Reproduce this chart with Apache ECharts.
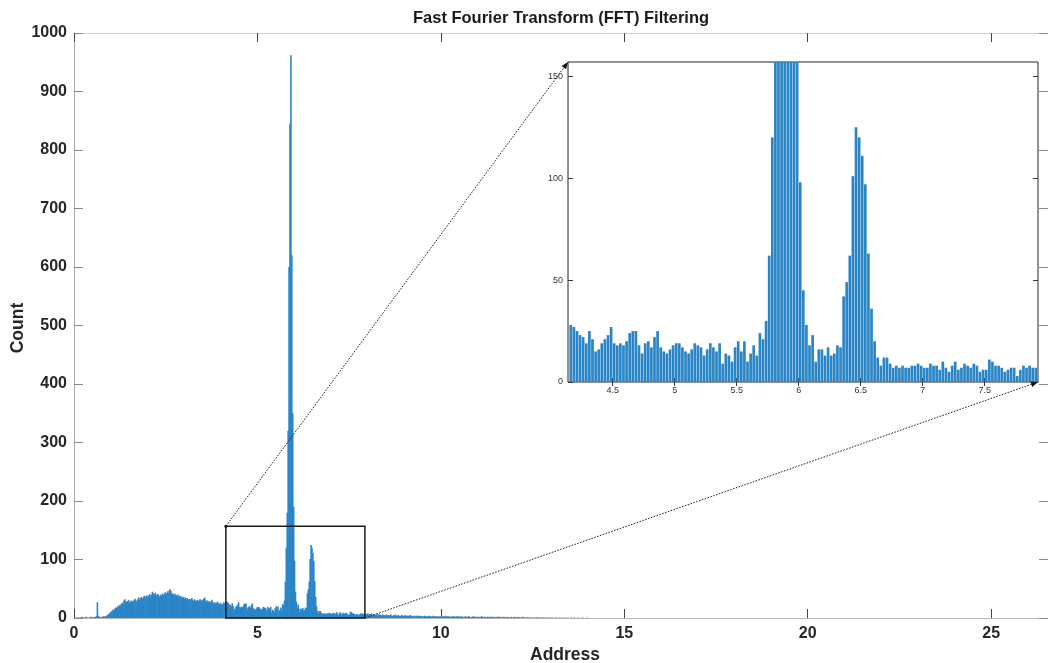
<!DOCTYPE html>
<html><head><meta charset="utf-8">
<script src="https://cdn.jsdelivr.net/npm/echarts@6/dist/echarts.min.js"></script>
<style>html,body{margin:0;padding:0;background:#fff}#c{width:1048px;height:663px}</style>
</head><body><div id="c"></div>
<script>
// ---------------- data ----------------
const binWidth = 0.025;           // histogram bin width (Address units)
// bins from Address 0 to 4.15
const countsLow = [
  0,0,1,0,1,1,0,1,2,1,0,1,1,2,1,0,1,1,2,1,1,2,1,2,3,
  27,4,1,2,1,2,2,3,2,3,
  4,5,6,8,9,11,
  12,14,13,16,18,17,20,19,
  22,21,24,26,25,30,32,28,
  27,29,31,26,28,30,27,29,
  31,33,30,28,32,35,31,34,
  36,33,35,38,34,37,39,35,
  38,41,37,40,45,42,39,43,
  40,38,41,39,36,40,38,42,
  39,41,44,40,43,46,42,49,
  47,43,40,42,38,41,39,37,
  40,36,38,35,37,34,36,33,
  35,32,34,31,33,30,32,34,
  31,29,32,30,28,31,29,30,
  32,29,31,28,33,35,30,28,
  30,27,29,26,28,31,27,25,
  27,24,26,28,25,23,26,24,
  22,25,27,24,26
];
// bins from Address 4.15 to 7.95 (zoomed region)
const countsZoom = [
  28,27,25,23,22,19,25,21,15,16,
  19,21,23,27,19,18,19,18,20,24,
  25,25,18,14,19,20,17,22,25,17,
  15,14,16,18,19,19,17,15,14,16,
  19,18,17,13,16,19,17,15,19,9,
  14,13,10,17,20,15,20,10,14,18,
  13,24,21,30,62,120,180,320,600,845,
  962,620,350,190,98,45,28,18,23,10,
  16,16,13,17,13,14,18,17,42,49,
  62,101,125,120,111,97,63,36,20,12,
  8,12,12,9,7,8,7,8,7,7,
  8,8,9,8,7,7,9,8,8,6,
  10,7,5,8,10,6,7,9,8,7,
  9,8,5,6,6,11,10,8,8,7,
  5,6,7,7,3,6,8,7,8,7,7,6
];
// bins from Address 7.95 to 14
const countsHigh = [
  7,6,8,5,7,6,8,5,6,7,5,6,4,7,5,6,5,4,6,5,
  5,4,6,3,5,4,5,6,4,3,5,4,6,4,3,5,4,4,3,5,
  4,3,4,5,3,4,3,4,5,3,4,3,3,4,2,4,3,4,3,3,
  4,3,2,3,4,3,3,2,4,3,3,2,3,4,2,3,3,2,3,2,
  3,2,3,2,3,3,2,4,2,3,2,3,2,2,3,2,3,2,2,3,
  2,3,2,2,3,2,2,1,3,2,2,2,3,2,1,2,2,3,2,2,
  2,1,2,2,1,2,3,2,1,2,2,1,2,2,1,2,1,2,2,1,
  2,1,1,2,2,1,2,1,1,2,1,2,1,1,2,1,1,1,2,1,
  1,1,2,1,1,1,2,1,1,1,1,2,1,1,0,1,1,1,1,0,
  1,1,0,1,1,0,1,1,1,0,1,0,1,1,0,1,0,1,0,1,
  0,1,0,1,0,0,1,0,1,0,0,1,0,0,1,0,0,1,0,0,
  1,0,0,0,1,0,0,1,0,0,0,1,0,0,0,0,1,0,0,0,0,1
];
const mainXTicks = [0, 5, 10, 15, 20, 25];
const insetXTicks = [4.5, 5, 5.5, 6, 6.5, 7, 7.5];
const insetYTicks = [0, 50, 100, 150];
const zoomX = [4.14, 7.93];
const zoomY = [0, 157];
const mainXMax = 26.55;
const mainYMax = 1000;
const titleText = 'Fast Fourier Transform (FFT) Filtering';
const xName = 'Address';
const yName = 'Count';

// ---------------- chart ----------------
const counts = countsLow.concat(countsZoom, countsHigh);
const binData = counts.map((c, k) => [(k + 0.5) * binWidth, c]);
const zoomData = binData.filter(d => d[0] >= zoomX[0] && d[0] <= zoomX[1]);

const FONT = '"Liberation Sans", Arial, Helvetica, sans-serif';
const BLUE = '#2a85c7';
const chart = echarts.init(document.getElementById('c'));
const plain = v => String(v);

const mainLabel = {fontSize: 16, fontWeight: 'bold', color: '#262626', fontFamily: FONT, formatter: plain};
const insetLabel = {fontSize: 9, color: '#333', fontFamily: FONT, formatter: plain};

chart.setOption({
  animation: false,
  backgroundColor: '#fff',
  grid: [
    {left: 74, top: 33, width: 978, height: 585},
    {left: 568, top: 62, width: 470, height: 320, show: true, backgroundColor: '#fff',
     borderColor: '#262626', borderWidth: 1}
  ],
  xAxis: [
    {gridIndex: 0, type: 'value', min: 0, max: mainXMax, position: 'bottom',
     axisLine: {show: true, onZero: false, lineStyle: {color: '#b5b5b5'}},
     axisTick: {show: true, inside: true, length: 9, customValues: mainXTicks, lineStyle: {color: '#444'}},
     axisLabel: Object.assign({customValues: mainXTicks, margin: 8}, mainLabel),
     splitLine: {show: false}},
    {gridIndex: 0, type: 'value', min: 0, max: mainXMax, position: 'top',
     axisLine: {show: true, onZero: false, lineStyle: {color: '#d0d0d0'}},
     axisTick: {show: true, inside: true, length: 9, customValues: mainXTicks, lineStyle: {color: '#444'}},
     axisLabel: {show: false}, splitLine: {show: false}},
    {gridIndex: 1, type: 'value', min: zoomX[0], max: zoomX[1], position: 'bottom',
     axisLine: {show: false},
     axisTick: {show: true, inside: true, length: 4, customValues: insetXTicks, lineStyle: {color: '#333'}},
     axisLabel: Object.assign({customValues: insetXTicks, margin: 4}, insetLabel),
     splitLine: {show: false}},
    {gridIndex: 1, type: 'value', min: zoomX[0], max: zoomX[1], position: 'top',
     axisLine: {show: false},
     axisTick: {show: true, inside: true, length: 4, customValues: insetXTicks, lineStyle: {color: '#333'}},
     axisLabel: {show: false}, splitLine: {show: false}}
  ],
  yAxis: [
    {gridIndex: 0, type: 'value', min: 0, max: mainYMax, interval: 100, position: 'left',
     axisLine: {show: true, onZero: false, lineStyle: {color: '#a8a8a8'}},
     axisTick: {show: true, inside: true, length: 9, lineStyle: {color: '#888'}},
     axisLabel: Object.assign({margin: 7}, mainLabel),
     splitLine: {show: false}},
    {gridIndex: 0, type: 'value', min: 0, max: mainYMax, interval: 100, position: 'right',
     axisLine: {show: true, onZero: false, lineStyle: {color: '#d0d0d0'}},
     axisTick: {show: true, inside: true, length: 9, lineStyle: {color: '#888'}},
     axisLabel: {show: false}, splitLine: {show: false}},
    {gridIndex: 1, type: 'value', min: zoomY[0], max: zoomY[1], position: 'left',
     axisLine: {show: false},
     axisTick: {show: true, inside: true, length: 5, customValues: insetYTicks, lineStyle: {color: '#333'}},
     axisLabel: Object.assign({customValues: insetYTicks, margin: 5}, insetLabel),
     splitLine: {show: false}},
    {gridIndex: 1, type: 'value', min: zoomY[0], max: zoomY[1], position: 'right',
     axisLine: {show: false},
     axisTick: {show: true, inside: true, length: 5, customValues: insetYTicks, lineStyle: {color: '#333'}},
     axisLabel: {show: false}, splitLine: {show: false}}
  ],
  series: [
    {type: 'bar', xAxisIndex: 0, yAxisIndex: 0, data: binData, barWidth: 1.6,
     itemStyle: {color: BLUE}, clip: true, silent: true},
    {type: 'bar', xAxisIndex: 2, yAxisIndex: 2, data: zoomData, barWidth: 2.7,
     itemStyle: {color: BLUE}, clip: true, silent: true, z: 5}
  ]
});

// ---------------- annotations (zoom box, connectors, texts) ----------------
const P = (ax, v) => chart.convertToPixel({xAxisIndex: ax, yAxisIndex: ax}, v);
const p1 = P(0, [zoomX[0], zoomY[1]]);
const p2 = P(0, [zoomX[1], zoomY[0]]);
const q1 = P(2, [zoomX[0], zoomY[1]]);
const q2 = P(2, [zoomX[1], zoomY[0]]);

function arrowHead(a, b) {
  const dx = b[0] - a[0], dy = b[1] - a[1];
  const L = Math.sqrt(dx * dx + dy * dy);
  const ux = dx / L, uy = dy / L, nx = -uy, ny = ux;
  const len = 7, hw = 2.8;
  const bx = b[0] - ux * len, by = b[1] - uy * len;
  return {type: 'polygon', z: 100,
    shape: {points: [[b[0], b[1]], [bx + nx * hw, by + ny * hw], [bx - nx * hw, by - ny * hw]]},
    style: {fill: '#111'}};
}
const dash = {stroke: '#222', lineWidth: 1, lineDash: [1.6, 1.4]};

chart.setOption({
  graphic: [
    {type: 'rect', z: 100, shape: {x: p1[0], y: p1[1], width: p2[0] - p1[0], height: p2[1] - p1[1]},
     style: {fill: null, stroke: '#1a1a1a', lineWidth: 1.5}},
    {type: 'line', z: 100, shape: {x1: p1[0], y1: p1[1], x2: q1[0], y2: q1[1]}, style: dash},
    {type: 'line', z: 100, shape: {x1: p2[0], y1: p2[1], x2: q2[0], y2: q2[1]}, style: dash},
    arrowHead(p1, q1),
    arrowHead(p2, q2),
    {type: 'circle', z: 100, shape: {cx: p1[0], cy: p1[1], r: 1.5}, style: {fill: '#111'}},
    {type: 'text', z: 100, x: 561, y: 18,
     style: {text: titleText, font: 'bold 16.5px ' + FONT, fill: '#1a1a1a', textAlign: 'center', textVerticalAlign: 'middle'}},
    {type: 'text', z: 100, x: 565, y: 655,
     style: {text: xName, font: 'bold 17.5px ' + FONT, fill: '#262626', textAlign: 'center', textVerticalAlign: 'middle'}},
    {type: 'text', z: 100, x: 18, y: 328, rotation: Math.PI / 2,
     style: {text: yName, font: 'bold 17.5px ' + FONT, fill: '#262626', textAlign: 'center', textVerticalAlign: 'middle'}}
  ]
});
</script>
</body></html>
